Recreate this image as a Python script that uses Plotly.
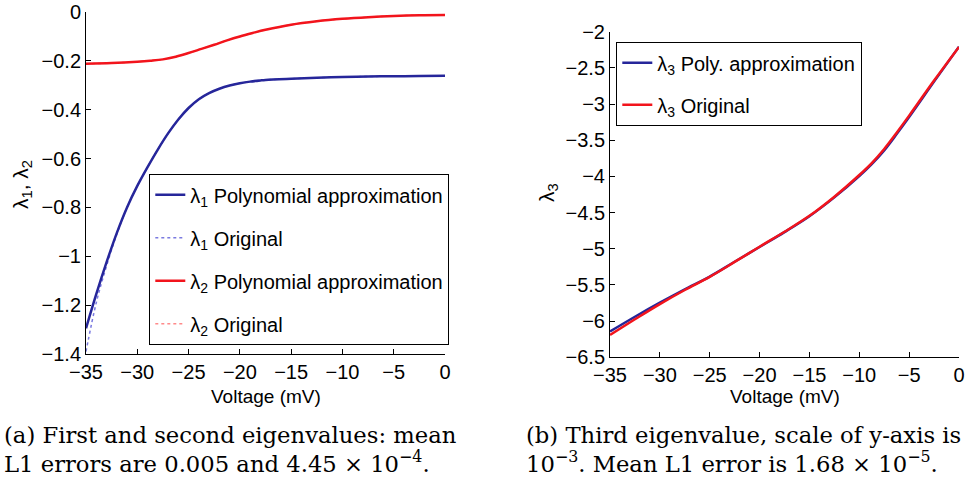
import plotly.graph_objects as go

# ---------- data ----------
volt_l1 = [-35, -34, -33, -32, -31, -30, -29, -28, -27, -26, -25, -24, -23, -22, -21, -20,
           -19, -18, -17.5, -15, -12.5, -10, -7.5, -5, -2.5, 0]
lam1_poly = [-1.295, -1.155, -1.025, -0.905, -0.800, -0.712, -0.635, -0.563, -0.497, -0.440,
             -0.393, -0.357, -0.332, -0.314, -0.301, -0.292, -0.285, -0.280, -0.278, -0.273,
             -0.269, -0.266, -0.264, -0.263, -0.262, -0.261]
lam1_orig = [-1.390, -1.190, -1.040, -0.910, -0.800, -0.712, -0.635, -0.563, -0.497, -0.440,
             -0.393, -0.357, -0.332, -0.314, -0.301, -0.292, -0.285, -0.280, -0.278, -0.273,
             -0.269, -0.266, -0.264, -0.263, -0.262, -0.261]

volt_l2 = [-35, -32.5, -30, -28.75, -27.5, -26.25, -25, -23.75, -22.5, -21.25, -20, -18.75,
           -17.5, -15, -12.5, -10, -7.5, -5, -2.5, 0]
lam2_poly = [-0.212, -0.209, -0.2035, -0.1995, -0.194, -0.183, -0.168, -0.151, -0.134, -0.116,
             -0.100, -0.086, -0.073, -0.052, -0.038, -0.028, -0.021, -0.016, -0.013, -0.012]
lam2_orig = [-0.212, -0.209, -0.2035, -0.1995, -0.194, -0.183, -0.168, -0.151, -0.134, -0.116,
             -0.100, -0.086, -0.073, -0.052, -0.038, -0.028, -0.021, -0.016, -0.013, -0.012]

volt_l3 = [-35, -32.5, -30, -27.5, -25, -22.5, -20, -17.5, -15, -12.5, -10, -8.75, -7.5,
           -6.25, -5, -2.5, 0]
lam3_poly = [-6.144, -5.940, -5.745, -5.560, -5.384, -5.180, -4.975, -4.770, -4.550, -4.290,
             -3.995, -3.830, -3.640, -3.415, -3.180, -2.690, -2.207]
lam3_orig = [-6.190, -5.975, -5.765, -5.570, -5.388, -5.182, -4.972, -4.765, -4.545, -4.280,
             -3.980, -3.815, -3.620, -3.395, -3.160, -2.675, -2.210]

x_ticks = [-35, -30, -25, -20, -15, -10, -5, 0]
x_ticktext = ["\u221235", "\u221230", "\u221225", "\u221220", "\u221215", "\u221210", "\u22125", "0"]
y1_ticks = [0, -0.2, -0.4, -0.6, -0.8, -1.0, -1.2, -1.4]
y1_ticktext = ["0", "\u22120.2", "\u22120.4", "\u22120.6", "\u22120.8", "\u22121", "\u22121.2", "\u22121.4"]
y3_ticks = [-2, -2.5, -3, -3.5, -4, -4.5, -5, -5.5, -6, -6.5]
y3_ticktext = ["\u22122", "\u22122.5", "\u22123", "\u22123.5", "\u22124", "\u22124.5", "\u22125",
               "\u22125.5", "\u22126", "\u22126.5"]

x_title = "Voltage (mV)"
y1_title = "\u03bb<sub>1</sub>, \u03bb<sub>2</sub>"
y3_title = "\u03bb<sub>3</sub>"

caption_a = ["(a) First and second eigenvalues: mean",
             "L1 errors are 0.005 and 4.45 \u00d7 10<sup>\u22124</sup>."]
caption_b = ["(b) Third eigenvalue, scale of y-axis is",
             "10<sup>\u22123</sup>. Mean L1 error is 1.68 \u00d7 10<sup>\u22125</sup>."]

BLUE = "#26269a"
RED = "#f2141c"
SANS = "Liberation Sans, Arial, sans-serif"
SERIF = "DejaVu Serif, serif"

W, H = 968, 489


def px(x):
    return x / W


def py(y):
    return (H - y) / H


fig = go.Figure()

# left panel
fig.add_trace(go.Scatter(x=volt_l1, y=lam1_orig, mode="lines", line=dict(color="#7a7ae0", width=1.5, dash="dot", shape="spline"),
                         name="\u03bb<sub>1</sub> Original", legend="legend", legendgroup="b", legendrank=2,
                         xaxis="x", yaxis="y"))
fig.add_trace(go.Scatter(x=volt_l2, y=lam2_orig, mode="lines", line=dict(color="#ff8a8a", width=1.5, dash="dot", shape="spline"),
                         name="\u03bb<sub>2</sub> Original", legend="legend", legendgroup="d", legendrank=4,
                         xaxis="x", yaxis="y"))
fig.add_trace(go.Scatter(x=volt_l1, y=lam1_poly, mode="lines", line=dict(color=BLUE, width=2.5, shape="spline"),
                         name="\u03bb<sub>1</sub> Polynomial approximation", legend="legend", legendgroup="a", legendrank=1,
                         xaxis="x", yaxis="y"))
fig.add_trace(go.Scatter(x=volt_l2, y=lam2_poly, mode="lines", line=dict(color=RED, width=2.5, shape="spline"),
                         name="\u03bb<sub>2</sub> Polynomial approximation", legend="legend", legendgroup="c", legendrank=3,
                         xaxis="x", yaxis="y"))

# right panel
fig.add_trace(go.Scatter(x=volt_l3, y=lam3_poly, mode="lines", line=dict(color=BLUE, width=2.5, shape="spline"),
                         name="\u03bb<sub>3</sub> Poly. approximation", legend="legend2", legendgroup="e", legendrank=1,
                         xaxis="x2", yaxis="y2"))
fig.add_trace(go.Scatter(x=volt_l3, y=lam3_orig, mode="lines", line=dict(color=RED, width=2.5, shape="spline"),
                         name="\u03bb<sub>3</sub> Original", legend="legend2", legendgroup="f", legendrank=2,
                         xaxis="x2", yaxis="y2"))

axis_common = dict(showline=True, linecolor="black", linewidth=1, ticks="inside", ticklen=5,
                   tickcolor="black", showgrid=False, zeroline=False, mirror=False, automargin=False,
                   ticklabeloverflow="allow",
                   tickfont=dict(family=SANS, size=20, color="black"))

fig.update_layout(
    width=W, height=H,
    margin=dict(l=0, r=0, t=0, b=0, autoexpand=False),
    paper_bgcolor="white", plot_bgcolor="white",
    showlegend=True,
    xaxis=dict(domain=[px(86), px(445)], range=[-35, 0], anchor="y",
               tickvals=x_ticks, ticktext=x_ticktext, **axis_common),
    yaxis=dict(domain=[py(354), py(12)], range=[-1.4, 0], anchor="x",
               tickvals=y1_ticks, ticktext=y1_ticktext, **axis_common),
    xaxis2=dict(domain=[px(610), px(959)], range=[-35, 0], anchor="y2",
                tickvals=x_ticks, ticktext=x_ticktext, **axis_common),
    yaxis2=dict(domain=[py(357.3), py(31.7)], range=[-6.5, -2], anchor="x2",
                tickvals=y3_ticks, ticktext=y3_ticktext, **axis_common),
    legend=dict(x=px(149), y=py(174), xanchor="left", yanchor="top",
                bgcolor="white", bordercolor="black", borderwidth=1.3, itemwidth=30,
                font=dict(family=SANS, size=20, color="black"), tracegroupgap=14,
                traceorder="grouped"),
    legend2=dict(x=px(616), y=py(42), xanchor="left", yanchor="top",
                 bgcolor="white", bordercolor="black", borderwidth=1.3, itemwidth=30,
                 font=dict(family=SANS, size=20, color="black"), tracegroupgap=13,
                 traceorder="grouped"),
)

title_font = dict(family=SANS, size=19, color="black")
fig.add_annotation(text=x_title, x=px(265.5), y=py(396), xref="paper", yref="paper",
                   xanchor="center", yanchor="middle", showarrow=False, font=title_font)
fig.add_annotation(text=x_title, x=px(784.5), y=py(396), xref="paper", yref="paper",
                   xanchor="center", yanchor="middle", showarrow=False, font=title_font)
fig.add_annotation(text=y1_title, x=px(22), y=py(185), xref="paper", yref="paper",
                   xanchor="center", yanchor="middle", showarrow=False, font=dict(family=SANS, size=21, color="black"),
                   textangle=-90)
fig.add_annotation(text=y3_title, x=px(548), y=py(193), xref="paper", yref="paper",
                   xanchor="center", yanchor="middle", showarrow=False, font=dict(family=SANS, size=21, color="black"),
                   textangle=-90)

cap_font = dict(family=SERIF, size=22.7, color="black")
for i, line in enumerate(caption_a):
    fig.add_annotation(text=line, x=px(3), y=py(435 + 27 * i), xref="paper", yref="paper",
                       xanchor="left", yanchor="middle", showarrow=False, font=cap_font, borderpad=0)
for i, line in enumerate(caption_b):
    fig.add_annotation(text=line, x=px(525), y=py(435 + 27 * i), xref="paper", yref="paper",
                       xanchor="left", yanchor="middle", showarrow=False, font=cap_font, borderpad=0)

# remove the default 8px page margin so the figure sits at the window's top-left corner
fig.write_html("out.html", config={"displayModeBar": False},
               post_script="document.body.style.margin='0px';")
